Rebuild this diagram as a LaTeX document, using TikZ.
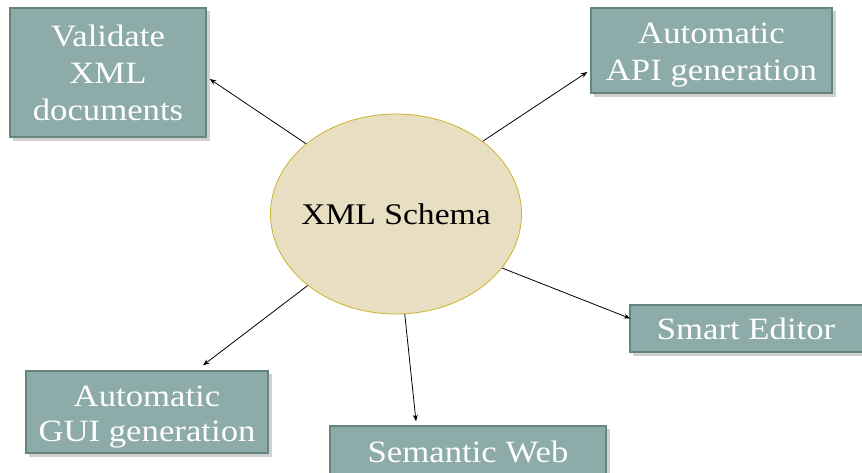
\documentclass[tikz,border=0pt]{standalone}
\usepackage{fontspec}
\setmainfont[FakeStretch=1.12]{Liberation Serif}
\usetikzlibrary{arrows.meta,calc,shapes.geometric}
\definecolor{boxfill}{HTML}{8DABA8}
\definecolor{boxline}{HTML}{66857F}
\definecolor{shadowc}{HTML}{D0D0D0}
\definecolor{ellfill}{HTML}{E8DFC2}
\definecolor{elline}{HTML}{CDB22A}
\tikzset{
  topic/.style={rectangle, fill=boxfill, draw=boxline, line width=1.4pt, inner sep=0pt,
    text=white, align=center, font=\fontsize{31}{37}\selectfont},
  shade/.style={fill=shadowc, draw=none},
  conn/.style={draw=black, line width=0.8pt, -{Stealth[length=6.5pt,width=5pt]}},
}
\begin{document}
\begin{tikzpicture}[x=1pt,y=-1pt]
\useasboundingbox (0,0) rectangle (862,472);
\clip (0,0) rectangle (862,472);
% shadows
\fill[shade] (13,11) rectangle (210,141);
\fill[shade] (594,11) rectangle (836,97);
\fill[shade] (633,308) rectangle (874,356);
\fill[shade] (29,374) rectangle (272,457);
\fill[shade] (333,429) rectangle (610,480);
% nodes
\node[topic, minimum width=196pt, minimum height=129pt] (b1) at (108,72.5) {Validate\\XML\\documents};
\node[topic, minimum width=241pt, minimum height=85pt] (b2) at (711.5,50.5) {\rule{0pt}{30pt}Automatic\\[0pt]API generation};
\node[topic, minimum width=240pt, minimum height=47pt] (b3) at (750,328.5) {\hspace*{-8pt}Smart Editor};
\node[topic, minimum width=242pt, minimum height=82pt, font=\fontsize{31}{35}\selectfont] (b4) at (147,412) {\rule{0pt}{30pt}Automatic\\GUI generation};
\node[topic, minimum width=276pt, minimum height=52pt] (b5) at (468,452) {Semantic Web};
\node[ellipse, fill=ellfill, draw=elline, line width=0.8pt, inner sep=0pt,
  minimum width=251pt, minimum height=200pt, font=\fontsize{30}{34}\selectfont] (xs) at (396,214) {\makebox[0pt]{XML Schema}};
% connectors
\draw[conn] (xs.142) -- ($(b1.east)+(3,6.5)$);
\draw[conn] (xs.40) -- ($(b2.west)+(-3,21.5)$);
\draw[conn] (xs.-27) -- ($(b3.west)+(1,-10)$);
\draw[conn] (xs.219.6) -- ($(b4.north)+(56,-5)$);
\draw[conn] (xs.275) -- ($(b5.north)+(-52,-4)$);
\end{tikzpicture}
\end{document}
